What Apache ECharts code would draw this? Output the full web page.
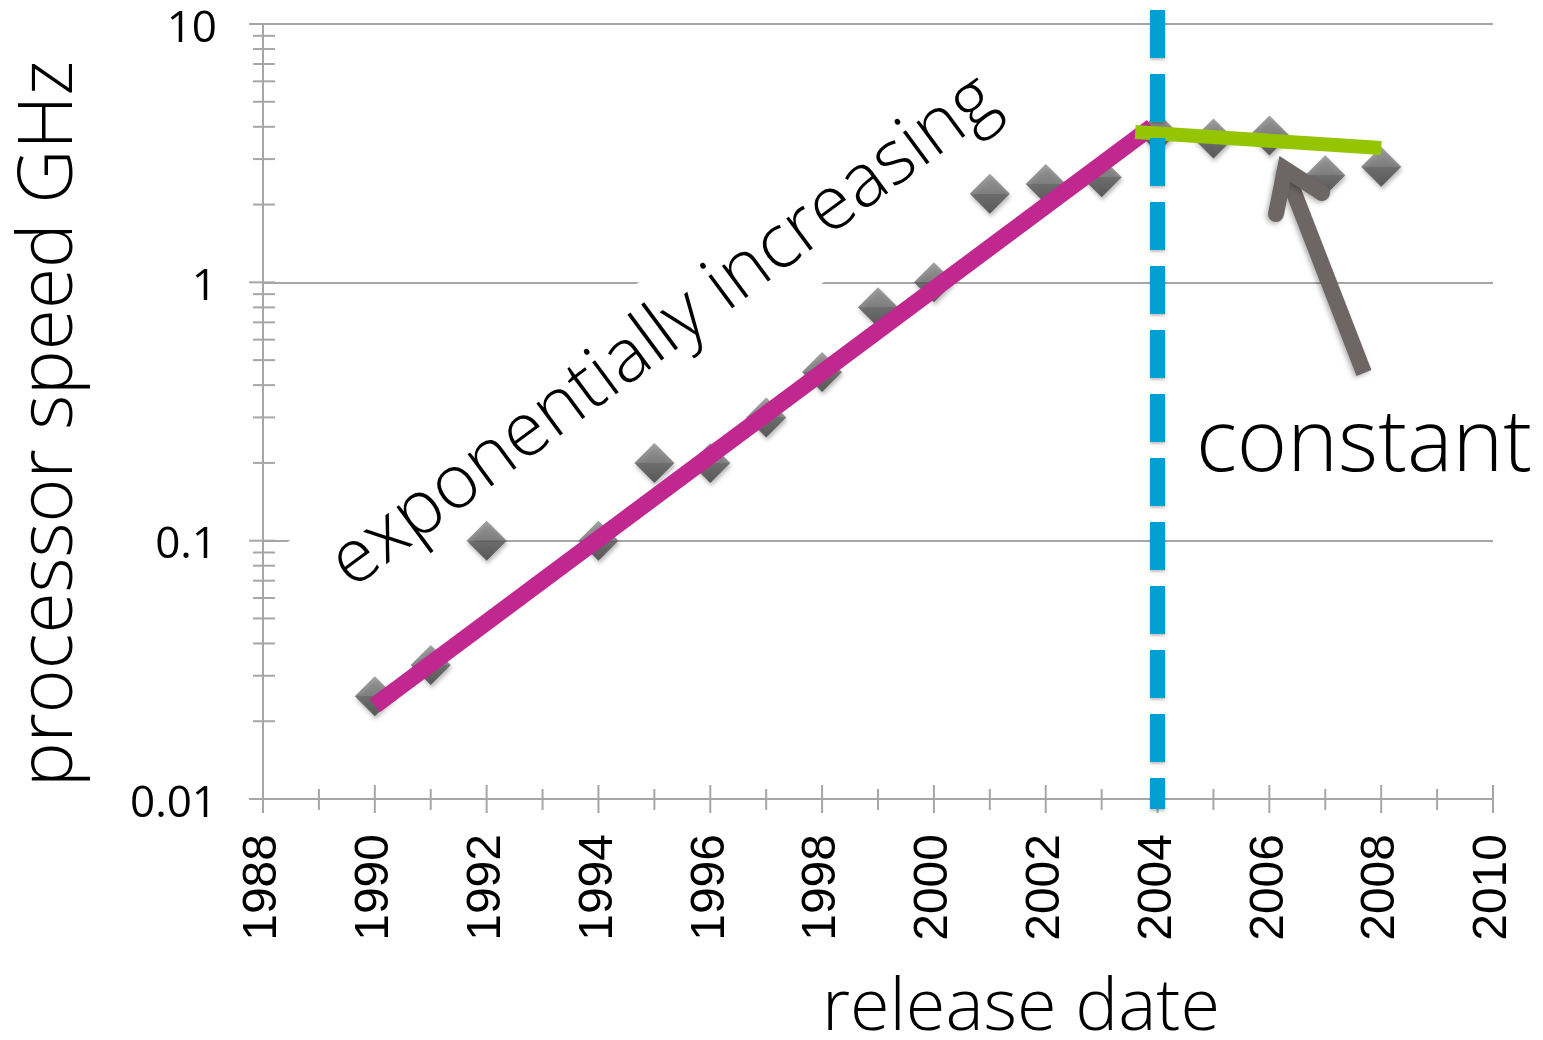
<!DOCTYPE html>
<html>
<head>
<meta charset="utf-8">
<script src="https://cdn.jsdelivr.net/npm/echarts@6/dist/echarts.min.js"></script>
<style>
  html, body { margin: 0; padding: 0; background: #ffffff; }
  #chart { width: 1543px; height: 1040px; }
</style>
</head>
<body>
<div id="chart"></div>
<script>
// Processor clock speed (GHz) by release year
const releaseYears = [1990, 1991, 1992, 1994, 1995, 1996, 1997, 1998, 1999, 2000, 2001, 2002, 2003, 2004, 2005, 2006, 2007, 2008];
const speedsGHz    = [0.025, 0.033, 0.1, 0.1, 0.2, 0.2, 0.3, 0.45, 0.8, 1.0, 2.2, 2.4, 2.55, 3.8, 3.6, 3.7, 2.6, 2.8];

// Hand-drawn trend segments: exponential growth, then flat
const growthTrendYears  = [1990, 2003.9];
const growthTrendSpeeds = [0.023, 4.0];
const flatTrendYears    = [2003.6, 2008];
const flatTrendSpeeds   = [3.82, 3.31];

// Year where the trend breaks (dashed divider) and how far it overshoots the plot
const breakYear = 2004;
const breakSpan = [11.33, 0.00915];

// Axis ranges and tick labels
const yearMin = 1988, yearMax = 2010;
const yTickValues = [0.01, 0.1, 1, 10];
const yTickLabels = ['0.01', '0.1', '1', '10'];

const axisGray = '#a6a6a6';
const sansFont = '"Open Sans", sans-serif';
const titleWeight = 350;

// Build the helper arrays the library needs
const points = releaseYears.map((y, i) => [y, speedsGHz[i]]);
const growthLine = growthTrendYears.map((y, i) => [y, growthTrendSpeeds[i]]);
const flatLine = flatTrendYears.map((y, i) => [y, flatTrendSpeeds[i]]);

// Tick marks that straddle the axis lines (major every other year / each decade)
const xTickData = [];
for (let y = yearMin; y <= yearMax; y++) xTickData.push([y, yTickValues[0], y % 2 === 0 ? 1 : 0]);
const yTickData = [];
for (let d = 0; d < yTickValues.length; d++) {
  yTickData.push([yearMin, yTickValues[d], 1]);
  if (d < yTickValues.length - 1) {
    for (let m = 2; m <= 9; m++) yTickData.push([yearMin, +(m * yTickValues[d]).toPrecision(3), 0]);
  }
}

const chart = echarts.init(document.getElementById('chart'), null, { renderer: 'canvas' });

const angle = 36.5 * Math.PI / 180;

chart.setOption({
  animation: false,
  backgroundColor: '#ffffff',
  grid: { left: 263, right: 50, top: 24, bottom: 241, containLabel: false },
  xAxis: {
    type: 'value',
    min: yearMin,
    max: yearMax,
    interval: 2,
    axisLine: { show: true, onZero: false, lineStyle: { color: axisGray, width: 2 } },
    axisTick: { show: false },
    splitLine: { show: false },
    axisLabel: {
      rotate: 90,
      margin: 35,
      color: '#000000',
      fontFamily: '"Liberation Sans", Arial, sans-serif',
      fontSize: 48,
      formatter: v => String(v)
    }
  },
  yAxis: {
    type: 'log',
    logBase: 10,
    min: 0.01,
    max: 10,
    axisLine: { show: true, onZero: false, lineStyle: { color: axisGray, width: 2 } },
    axisTick: { show: false },
    minorTick: { show: false },
    splitLine: { show: true, lineStyle: { color: axisGray, width: 2 } },
    axisLabel: {
      margin: 46,
      color: '#000000',
      fontFamily: sansFont,
      fontSize: 44,
      rich: {
        t: { fontFamily: sansFont, fontSize: 44, color: '#000000', padding: [10, 0, 0, 0] }
      },
      formatter: v => {
        const k = Math.round(Math.log10(v));
        const idx = yTickValues.findIndex(t => Math.round(Math.log10(t)) === k);
        return idx >= 0 ? '{t|' + yTickLabels[idx] + '}' : '';
      }
    }
  },
  series: [
    {
      type: 'custom',
      name: 'x ticks',
      silent: true,
      clip: false,
      z: 1,
      data: xTickData,
      renderItem: (params, api) => {
        const p = api.coord([api.value(0), api.value(1)]);
        const major = api.value(2) === 1;
        return {
          type: 'line',
          shape: { x1: p[0], y1: p[1] - (major ? 14 : 10), x2: p[0], y2: p[1] + (major ? 14 : 11) },
          style: { stroke: axisGray, lineWidth: 2 }
        };
      }
    },
    {
      type: 'custom',
      name: 'y ticks',
      silent: true,
      clip: false,
      z: 1,
      data: yTickData,
      renderItem: (params, api) => {
        const p = api.coord([api.value(0), api.value(1)]);
        const major = api.value(2) === 1;
        return {
          type: 'line',
          shape: { x1: p[0] - (major ? 14 : 10), y1: p[1], x2: p[0] + 12, y2: p[1] },
          style: { stroke: axisGray, lineWidth: 2 }
        };
      }
    },
    {
      type: 'scatter',
      name: 'processors',
      z: 2,
      symbol: 'diamond',
      symbolSize: 40,
      data: points,
      itemStyle: {
        color: {
          type: 'linear', x: 0, y: 0, x2: 0, y2: 1,
          colorStops: [
            { offset: 0, color: '#8c8c8c' },
            { offset: 0.5, color: '#6f6f6f' },
            { offset: 0.5, color: '#5a5a5a' },
            { offset: 1, color: '#404040' }
          ]
        },
        shadowColor: 'rgba(0,0,0,0.35)',
        shadowBlur: 4,
        shadowOffsetX: 1,
        shadowOffsetY: 3
      }
    },
    {
      type: 'line',
      name: 'growth',
      z: 3,
      symbol: 'none',
      clip: false,
      data: growthLine,
      lineStyle: { color: '#c0288f', width: 17, cap: 'butt' }
    },
    {
      type: 'line',
      name: 'flat',
      z: 4,
      symbol: 'none',
      clip: false,
      data: flatLine,
      lineStyle: { color: '#95c400', width: 14, cap: 'butt' }
    },
    {
      type: 'line',
      name: 'break',
      z: 5,
      symbol: 'none',
      clip: false,
      data: breakSpan.map(v => [breakYear, v]),
      lineStyle: {
        color: '#00a0d2', width: 15, type: [48, 16], cap: 'butt',
        shadowColor: 'rgba(0,0,0,0.25)', shadowBlur: 3, shadowOffsetY: 2
      }
    }
  ],
  graphic: [
    {
      type: 'rect', z: 1, silent: true,
      x: 664, y: 332, rotation: angle,
      shape: { x: -440, y: -55, width: 855, height: 110 },
      style: { fill: '#ffffff' }
    },
    {
      type: 'text', z: 10,
      x: 664, y: 332, rotation: angle,
      style: {
        text: 'exponentially increasing', fill: '#000000',
        fontFamily: sansFont, fontWeight: titleWeight, fontSize: 75, align: 'center', verticalAlign: 'middle'
      }
    },
    {
      type: 'text', z: 10, x: 1364, y: 446,
      style: {
        text: 'constant', fill: '#000000',
        fontFamily: sansFont, fontWeight: titleWeight, fontSize: 86, align: 'center', verticalAlign: 'middle'
      }
    },
    {
      type: 'text', z: 10, x: 1021, y: 1009,
      style: {
        text: 'release date', fill: '#000000',
        fontFamily: sansFont, fontWeight: titleWeight, fontSize: 72, align: 'center', verticalAlign: 'middle'
      }
    },
    {
      type: 'text', z: 10, x: 51, y: 424, rotation: Math.PI / 2,
      style: {
        text: 'processor speed GHz', fill: '#000000',
        fontFamily: sansFont, fontWeight: titleWeight, fontSize: 75, align: 'center', verticalAlign: 'middle'
      }
    },
    {
      type: 'polyline', z: 10, silent: true,
      shape: { points: [[1364, 373], [1284, 167]] },
      style: {
        stroke: '#6d6664', lineWidth: 16, lineCap: 'butt', fill: null,
        shadowColor: 'rgba(0,0,0,0.3)', shadowBlur: 5, shadowOffsetX: -2, shadowOffsetY: 2
      }
    },
    {
      type: 'polyline', z: 10, silent: true,
      shape: { points: [[1276, 214], [1285, 169], [1322, 193]] },
      style: {
        stroke: '#6d6664', lineWidth: 16, lineCap: 'round', lineJoin: 'miter', miterLimit: 10, fill: null,
        shadowColor: 'rgba(0,0,0,0.3)', shadowBlur: 5, shadowOffsetX: -2, shadowOffsetY: 2
      }
    }
  ]
});
</script>
</body>
</html>
